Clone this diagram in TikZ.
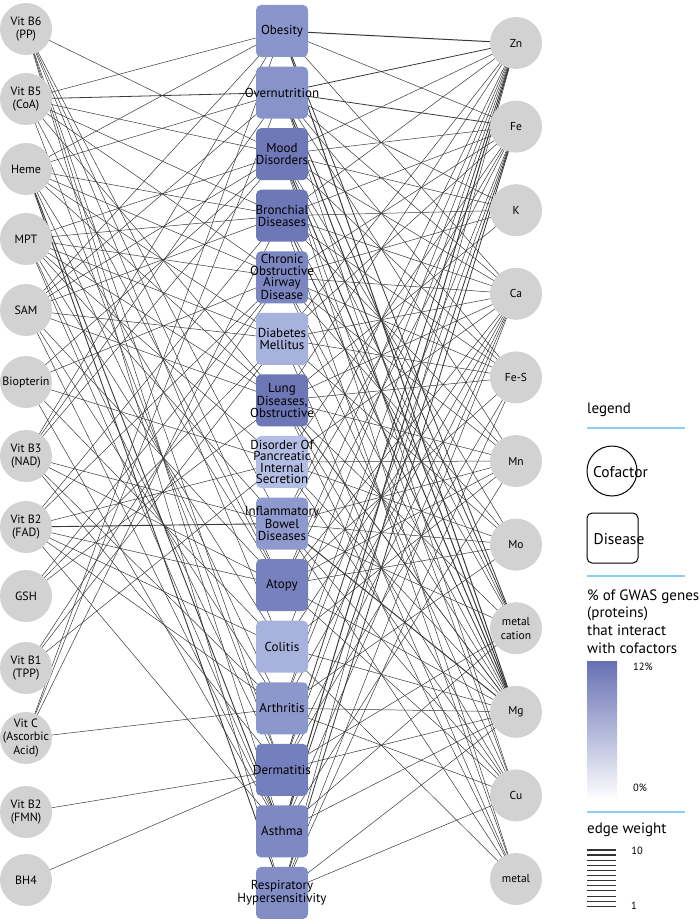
\documentclass[tikz,border=0pt]{standalone}
\usepackage{fontspec}
\setmainfont{PT Sans}
\pgfdeclarelayer{edgelayer}
\pgfsetlayers{edgelayer,main}
\definecolor{cofgray}{HTML}{D1D2D1}
\definecolor{lineblue}{HTML}{8ACFF2}
\definecolor{gradtop}{HTML}{6670B3}
\definecolor{c0}{HTML}{8A96CB}
\definecolor{c1}{HTML}{8893C9}
\definecolor{c2}{HTML}{6F79B8}
\definecolor{c3}{HTML}{6E78B7}
\definecolor{c4}{HTML}{7C87C2}
\definecolor{c5}{HTML}{A8B3DD}
\definecolor{c6}{HTML}{6D77B6}
\definecolor{c7}{HTML}{B3BEE4}
\definecolor{c8}{HTML}{8E9ACD}
\definecolor{c9}{HTML}{7781BE}
\definecolor{c10}{HTML}{A8B3DD}
\definecolor{c11}{HTML}{8C97CB}
\definecolor{c12}{HTML}{7480BD}
\definecolor{c13}{HTML}{7E89C3}
\definecolor{c14}{HTML}{828DC6}
\begin{document}
\begin{tikzpicture}[x=1pt,y=-1pt,
  cofnode/.style={circle, fill=cofgray, minimum size=52pt, inner sep=0pt},
  coftext/.style={align=center, inner sep=0pt, font=\fontsize{12}{13.5}\selectfont},
  mettext/.style={align=center, inner sep=0pt, font=\fontsize{11.5}{14}\selectfont},
  disbox/.style={rounded corners=5pt, minimum width=52pt, minimum height=52pt, inner sep=0pt},
  distext/.style={align=center, inner sep=0pt, font=\fontsize{13}{11.6}\selectfont},
  edge/.style={draw=black!78},
  legtext/.style={anchor=west, inner sep=0pt, font=\fontsize{15}{17.7}\selectfont},
  smalltext/.style={inner sep=0pt, font=\fontsize{10.5}{12}\selectfont},
  sepline/.style={draw=lineblue, line width=1.6pt}
]
\useasboundingbox (0,0) rectangle (700,920);

% cofactors (left)
\foreach \i/\y/\t in {0/29/{Vit B6\\(PP)},1/99/{Vit B5\\(CoA)},2/169/{Heme},3/239/{MPT},4/310/{SAM},5/382/{Biopterin},6/456/{Vit B3\\(NAD)},7/527/{Vit B2\\(FAD)},8/596/{GSH},9/668/{Vit B1\\(TPP)},10/738/{Vit C\\(Ascorbic\\Acid)},11/812/{Vit B2\\(FMN)},12/880/{BH4}}{
  \node[cofnode] (L\i) at (26,\y) {};
  \node[coftext] at (L\i) {\t};
}

% metals (right)
\foreach \i/\t in {0/{Zn},1/{Fe},2/{K},3/{Ca},4/{Fe-S},5/{Mn},6/{Mo},7/{metal\\cation},8/{Mg},9/{Cu},10/{metal}}{
  \node[cofnode] (R\i) at (516,{43+83.6*\i}) {};
  \node[mettext] at (R\i) {\t};
}

% diseases (middle)
\foreach \i/\t in {0/{Obesity},1/{Overnutrition},2/{Mood\\Disorders},3/{Bronchial\\Diseases},4/{Chronic\\Obstructive\\Airway\\Disease},5/{Diabetes\\Mellitus},6/{Lung\\Diseases,\\Obstructive},7/{Disorder Of\\Pancreatic\\Internal\\Secretion},8/{Inflammatory\\Bowel\\Diseases},9/{Atopy},10/{Colitis},11/{Arthritis},12/{Dermatitis},13/{Asthma},14/{Respiratory\\Hypersensitivity}}{
  \node[disbox, fill=c\i] (D\i) at (282,{31+61.57*\i}) {};
  \node[distext] at (D\i) {\t};
}

% edges
\begin{pgfonlayer}{edgelayer}
\foreach \a/\b/\w in {
 0/2/0.5, 0/8/0.5, 0/9/0.5, 0/10/0.5, 0/12/0.5, 0/13/0.5, 0/14/0.5,
 1/0/0.5, 1/1/0.8, 1/2/0.5, 1/3/0.5, 1/4/0.5, 1/6/0.5, 1/9/0.5, 1/12/0.5,
 2/0/0.5, 2/1/0.5, 2/3/0.5, 2/4/0.5, 2/5/0.5, 2/6/0.5, 2/9/0.5, 2/11/0.5, 2/13/0.9, 2/14/0.9,
 3/2/0.5, 3/3/0.5, 3/4/0.5, 3/5/0.5, 3/6/0.5, 3/7/0.5, 3/8/0.5, 3/10/0.5, 3/12/0.5, 3/13/0.5,
 4/0/0.5, 4/1/0.5, 4/2/0.5, 4/3/0.5, 4/5/0.5, 4/6/0.5, 4/9/0.5, 4/11/0.5, 4/13/0.5,
 5/2/0.5, 5/4/0.5, 5/7/0.5, 5/10/0.5, 5/13/0.5,
 6/0/0.5, 6/1/0.5, 6/2/0.5, 6/8/0.5, 6/9/0.5, 6/11/0.5, 6/12/0.5,
 7/3/0.5, 7/4/0.5, 7/7/0.5, 7/8/0.9, 7/9/0.5, 7/10/0.5, 7/11/0.5, 7/13/0.5,
 8/4/0.5, 8/5/0.5, 8/6/0.5,
 9/4/0.5, 9/5/0.5, 9/7/0.5,
 10/0/0.5, 10/1/0.5, 10/3/0.5, 10/11/0.5,
 11/12/0.5,
 12/12/0.5}
 \draw[edge, line width=\w pt] (L\a.center) -- (D\b.center);
\foreach \a/\b/\w in {
 0/0/1.0, 0/1/0.8, 0/2/0.5, 0/3/0.5, 0/5/0.5, 0/6/0.5, 0/8/0.5, 0/9/0.5, 0/10/0.5, 0/11/0.5, 0/12/0.8, 0/13/1.0, 0/14/0.5,
 1/0/0.5, 1/1/0.8, 1/2/0.5, 1/3/0.5, 1/4/0.5, 1/5/0.5, 1/7/0.5, 1/8/0.5, 1/9/0.5, 1/11/0.5, 1/12/0.5, 1/13/0.8, 1/14/0.8,
 2/1/0.5, 2/2/0.5, 2/3/0.5, 2/4/0.5, 2/6/0.5,
 3/0/0.5, 3/1/0.5, 3/2/0.5, 3/3/0.5, 3/4/0.5, 3/5/0.5, 3/6/0.5, 3/7/0.5, 3/9/0.5, 3/10/0.5, 3/11/0.5, 3/12/0.5, 3/13/0.5, 3/14/0.5,
 4/1/0.5, 4/2/0.5, 4/3/0.5, 4/4/0.5, 4/5/0.5, 4/6/0.5, 4/9/0.5, 4/12/0.5, 4/14/0.5,
 5/1/0.5, 5/3/0.5, 5/4/0.5, 5/6/0.5, 5/7/0.5, 5/8/0.5, 5/9/0.5, 5/10/0.5, 5/13/0.5,
 6/2/0.5, 6/4/0.5, 6/5/0.5, 6/7/0.5, 6/8/0.5, 6/9/0.5, 6/11/0.5,
 7/0/0.8, 7/1/0.8, 7/2/0.5, 7/3/0.5, 7/6/0.5, 7/8/0.5, 7/12/0.5, 7/13/0.5,
 8/0/1.0, 8/1/1.0, 8/2/1.0, 8/3/0.8, 8/4/0.5, 8/5/0.5, 8/6/0.8, 8/7/0.5, 8/8/1.0, 8/9/0.5, 8/10/0.5, 8/11/0.5, 8/12/0.5, 8/13/0.5, 8/14/0.5,
 9/1/0.5, 9/2/0.5, 9/4/0.5, 9/6/0.5, 9/7/0.5, 9/8/0.5, 9/9/0.5, 9/11/0.5, 9/14/0.5,
 10/2/0.5, 10/3/0.5, 10/5/0.5, 10/6/0.5, 10/8/0.5, 10/10/0.5}
 \draw[edge, line width=\w pt] (R\a.center) -- (D\b.center);
\end{pgfonlayer}

% legend
\node[legtext] (legT) at (587,410) {legend};
\coordinate (s1a) at (587,428); \coordinate (s1b) at (685,428);
\draw[sepline] (s1a) -- (s1b);
\node[circle, draw=black, line width=1pt, minimum size=50pt, inner sep=0pt] (legC) at (612,471) {};
\node[inner sep=0pt, font=\fontsize{15.5}{17}\selectfont] at (620.5,472) {Cofactor};
\node[draw=black, line width=1pt, rounded corners=5pt, minimum width=51pt, minimum height=50pt, inner sep=0pt] (legD) at (612.5,538) {};
\node[inner sep=0pt, font=\fontsize{15.5}{17}\selectfont] at (619,539) {Disease};
\coordinate (s2a) at (587,576); \coordinate (s2b) at (685,576);
\draw[sepline] (s2a) -- (s2b);
\node[legtext, align=left] (gwas) at (587,621.5) {\% of GWAS genes\\(proteins)\\that interact\\with cofactors};
\shade[top color=gradtop, bottom color=white] (587,661) rectangle (617,800);
\node[smalltext] at (643,667) {12\%};
\node[smalltext] at (640,788) {0\%};
\coordinate (s3a) at (587,812); \coordinate (s3b) at (685,812);
\draw[sepline] (s3a) -- (s3b);
\node[legtext] (ewT) at (587,830) {edge weight};
\foreach \k in {0,...,11}{
  \pgfmathsetmacro{\lw}{1.5-0.1*\k}
  \draw[draw=black!80, line width=\lw pt] (587,{850+5.09*\k}) -- (616,{850+5.09*\k});
}
\node[smalltext] at (637,851) {10};
\node[smalltext] at (634,906) {1};
\end{tikzpicture}
\end{document}
